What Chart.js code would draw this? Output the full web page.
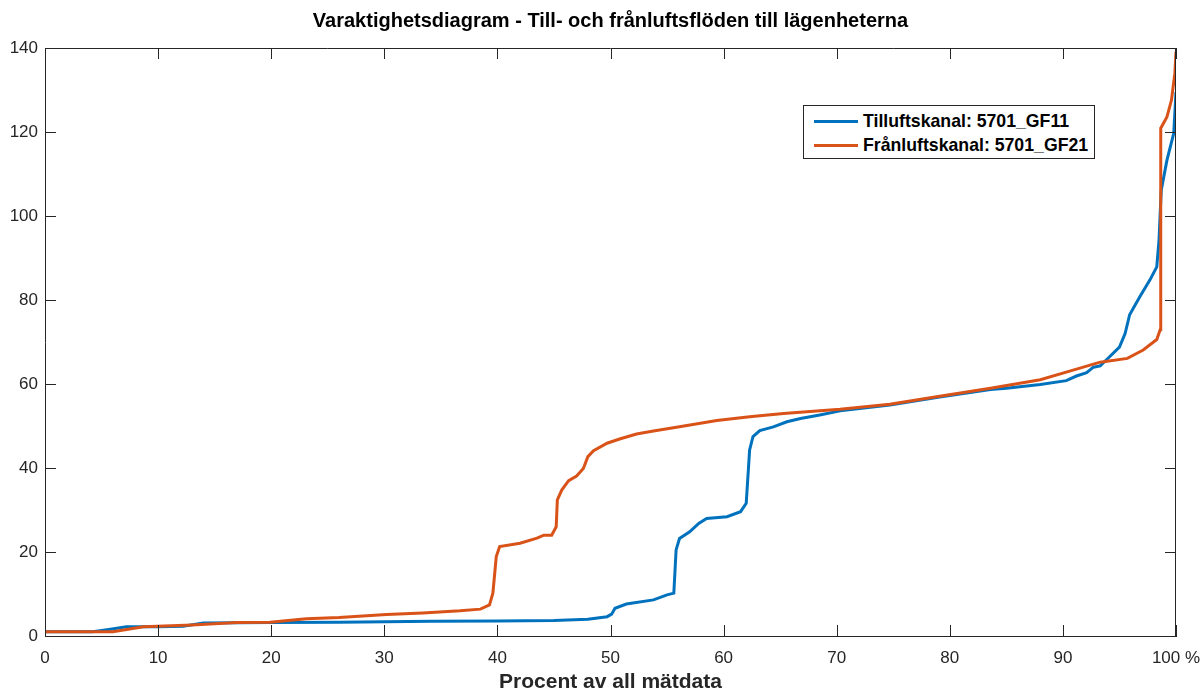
<!DOCTYPE html>
<html lang="sv">
<head>
<meta charset="utf-8">
<title>Varaktighetsdiagram</title>
<script src="https://cdn.jsdelivr.net/npm/chart.js@4.4.1/dist/chart.umd.min.js"></script>
<style>
  html, body { margin: 0; padding: 0; background: #fff; }
  #wrap { position: relative; width: 1203px; height: 693px; }
  #vdChart { display: block; }
  .vd-legend {
    position: absolute; left: 803px; top: 105px; width: 290px; height: 52px;
    border: 1px solid #262626; background: #fff;
    font: bold 17.7px "Liberation Sans", Arial, sans-serif; color: #000;
  }
  .vd-legend-row { position: absolute; left: 0; height: 22px; line-height: 22px; white-space: nowrap; }
  .vd-legend-line { position: absolute; left: 10px; top: 10px; width: 44px; height: 3px; }
  .vd-legend-text { position: absolute; left: 59px; top: 0; }
</style>
</head>
<body>
<div id="wrap">
  <canvas id="vdChart" width="1203" height="693"></canvas>
  <div class="vd-legend" id="vdLegend"></div>
</div>
<script>
// ── data (x = procent av mätdata, y = flöde) ──
var tillX = [0, 4.2, 5.5, 7.2, 10, 12.2, 14, 20, 26, 34.2, 40, 45, 48, 49.7, 50.1, 50.4, 51.4, 53.8, 55, 55.6, 55.8, 56.1, 57, 57.8, 58.5, 60.3, 61.5, 62, 62.3, 62.6, 63.2, 64.4, 65.6, 66.8, 68.5, 70.3, 74.7, 79.1, 83.6, 85, 88, 90.3, 91.2, 92.1, 92.7, 93.3, 93.9, 95, 95.5, 95.9, 96.8, 97.7, 98.3, 98.5, 98.6, 98.7, 99.2, 99.8, 100];
var tillY = [1.0, 1.0, 1.5, 2.2, 2.2, 2.3, 3.1, 3.2, 3.3, 3.5, 3.6, 3.7, 4.0, 4.6, 5.2, 6.6, 7.6, 8.6, 9.8, 10.2, 20.5, 23.2, 24.8, 26.8, 28, 28.4, 29.6, 31.6, 44.3, 47.5, 48.9, 49.8, 51, 51.8, 52.6, 53.6, 55.0, 56.9, 58.7, 59, 59.9, 60.8, 61.9, 62.7, 64, 64.3, 65.9, 68.8, 72, 76.5, 80.8, 84.8, 87.9, 94.3, 100.6, 106.2, 113.3, 119.7, 129.5];

var franX = [0, 6, 8.7, 13, 17, 19.9, 23.1, 26, 30.2, 33.4, 36.7, 38.5, 39.3, 39.6, 39.9, 40.2, 42, 43.5, 44.1, 44.8, 45.2, 45.3, 45.7, 46.3, 47, 47.6, 48, 48.5, 49.7, 50.8, 52.3, 53.8, 56.1, 59.4, 62.3, 65.3, 70.3, 74.7, 79.1, 83.6, 88, 90.9, 93.3, 95.7, 97.1, 98.3, 98.6, 98.65, 99.2, 99.6, 99.9, 100];
var franY = [1.0, 1.0, 2.2, 2.6, 3.2, 3.3, 4.1, 4.4, 5.1, 5.5, 6.0, 6.4, 7.4, 10.2, 18.9, 21.3, 22.1, 23.3, 24.0, 24.0, 26, 32.4, 34.8, 37, 38.1, 39.9, 42.7, 44.1, 45.9, 46.9, 48.1, 48.8, 49.8, 51.3, 52.2, 53.0, 54.0, 55.2, 57.1, 59.0, 61.0, 63.3, 65.2, 66.1, 68.1, 70.6, 72.9, 120.9, 123.6, 127.6, 134, 139.1];

var seriesLabels = ['Tilluftskanal: 5701_GF11', 'Frånluftskanal: 5701_GF21'];
var seriesColors = ['#0072BD', '#D95319'];

var xTicks = [0, 10, 20, 30, 40, 50, 60, 70, 80, 90, 100];
var yTicks = [0, 20, 40, 60, 80, 100, 120, 140];

var chartTitle = 'Varaktighetsdiagram - Till- och frånluftsflöden till lägenheterna';

var FONT = '"Liberation Sans", Arial, sans-serif';
var AXIS_COLOR = '#262626';
var TICK_LEN = 11;

function toPoints(xs, ys) {
  var pts = [];
  for (var i = 0; i < xs.length; i++) pts.push({ x: xs[i], y: ys[i] });
  return pts;
}

// ── box, inward ticks and title centred over the plot (MATLAB style) ──
var boxTicks = {
  id: 'boxTicks',
  afterDraw: function(chart) {
    var ctx = chart.ctx, a = chart.chartArea;
    var xs = chart.scales.x, ys = chart.scales.y;
    ctx.save();
    ctx.strokeStyle = AXIS_COLOR;
    ctx.lineWidth = 1;
    ctx.beginPath();
    ctx.moveTo(a.left, a.top + 0.5); ctx.lineTo(a.right, a.top + 0.5);
    ctx.moveTo(a.right - 0.5, a.top); ctx.lineTo(a.right - 0.5, a.bottom);
    for (var i = 0; i < xTicks.length; i++) {
      var px = Math.round(xs.getPixelForValue(xTicks[i])) + 0.5;
      ctx.moveTo(px, a.bottom); ctx.lineTo(px, a.bottom - TICK_LEN);
      ctx.moveTo(px, a.top); ctx.lineTo(px, a.top + TICK_LEN);
    }
    for (var j = 0; j < yTicks.length; j++) {
      var py = Math.round(ys.getPixelForValue(yTicks[j])) + 0.5;
      ctx.moveTo(a.left, py); ctx.lineTo(a.left + TICK_LEN, py);
      ctx.moveTo(a.right, py); ctx.lineTo(a.right - TICK_LEN, py);
    }
    ctx.stroke();

    ctx.fillStyle = '#000';
    ctx.font = 'bold 20px ' + FONT;
    ctx.textAlign = 'center';
    ctx.textBaseline = 'middle';
    ctx.fillText(chartTitle, (a.left + a.right) / 2, 21);
    ctx.restore();
  }
};

function renderLegend() {
  var el = document.getElementById('vdLegend');
  var html = '';
  for (var i = 0; i < seriesLabels.length; i++) {
    html += '<div class="vd-legend-row" style="top:' + (4 + i * 24) + 'px">' +
      '<span class="vd-legend-line" style="background:' + seriesColors[i] + '"></span>' +
      '<span class="vd-legend-text">' + seriesLabels[i] + '</span>' +
      '</div>';
  }
  el.innerHTML = html;
}

function renderChart() {
  var ctx = document.getElementById('vdChart').getContext('2d');
  new Chart(ctx, {
    type: 'line',
    data: {
      datasets: [
        {
          label: seriesLabels[0],
          data: toPoints(tillX, tillY),
          borderColor: seriesColors[0],
          borderWidth: 3,
          pointRadius: 0,
          order: 1
        },
        {
          label: seriesLabels[1],
          data: toPoints(franX, franY),
          borderColor: seriesColors[1],
          borderWidth: 3,
          pointRadius: 0,
          order: 0
        }
      ]
    },
    options: {
      responsive: false,
      animation: false,
      layout: { padding: { left: 0, right: 27, top: 48, bottom: 0 } },
      plugins: {
        legend: { display: false },
        tooltip: { enabled: false },
        title: { display: false }
      },
      scales: {
        x: {
          type: 'linear',
          min: 0,
          max: 100,
          afterBuildTicks: function(scale) {
            scale.ticks = xTicks.map(function(v) { return { value: v }; });
          },
          afterFit: function(scale) {
            scale.height = 57;
            scale.paddingLeft = 0;
            scale.paddingRight = 0;
          },
          grid: { display: false, drawTicks: false },
          border: { display: true, color: AXIS_COLOR, width: 1 },
          ticks: {
            padding: 12,
            color: AXIS_COLOR,
            maxRotation: 0,
            font: { family: FONT, size: 17 },
            callback: function(v) { return v === 100 ? '100 %' : v; }
          },
          title: {
            display: true,
            text: 'Procent av all mätdata',
            color: AXIS_COLOR,
            font: { family: FONT, size: 21, weight: 'bold', lineHeight: 1 },
            padding: { top: 0, bottom: 0 }
          }
        },
        y: {
          min: 0,
          max: 140,
          afterBuildTicks: function(scale) {
            scale.ticks = yTicks.map(function(v) { return { value: v }; });
          },
          afterFit: function(scale) {
            scale.width = 45;
            scale.paddingTop = 0;
            scale.paddingBottom = 0;
          },
          grid: { display: false, drawTicks: false },
          border: { display: true, color: AXIS_COLOR, width: 1 },
          ticks: {
            padding: 7,
            color: AXIS_COLOR,
            font: { family: FONT, size: 17 }
          }
        }
      }
    },
    plugins: [boxTicks]
  });
}

document.addEventListener('DOMContentLoaded', function() {
  renderLegend();
  renderChart();
});
</script>
</body>
</html>
